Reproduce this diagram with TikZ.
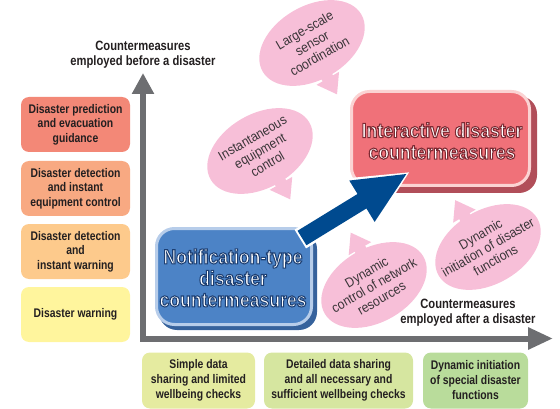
\documentclass[tikz,border=0pt]{standalone}
\usepackage{fontspec}
\setmainfont{Liberation Sans}[FakeStretch=0.83]
\newfontfamily\bubfont{Liberation Sans}[FakeStretch=0.9]
\newfontfamily\bigfont{Liberation Sans}[FakeStretch=0.86]
\usetikzlibrary{arrows.meta,shapes.geometric,calc}
\definecolor{axisgray}{HTML}{6D6E71}
\definecolor{txtdark}{HTML}{231F20}
\definecolor{cA}{HTML}{F38877}
\definecolor{cB}{HTML}{F8A982}
\definecolor{cC}{HTML}{FDCA8C}
\definecolor{cD}{HTML}{FFF59D}
\definecolor{gA}{HTML}{E5EBA0}
\definecolor{gB}{HTML}{D6E6A0}
\definecolor{gC}{HTML}{B9DC9B}
\definecolor{bpink}{HTML}{F7BFD8}
\definecolor{bubtxt}{HTML}{3A3538}
\definecolor{nmain}{HTML}{4C83C6}
\definecolor{nlight}{HTML}{B7CDEA}
\definecolor{ndark}{HTML}{36629C}
\definecolor{imain}{HTML}{F07179}
\definecolor{ilight}{HTML}{FBD3D3}
\definecolor{idark}{HTML}{B14E59}
\definecolor{arrowblue}{HTML}{004A8F}
% white text with a coloured stroke (PDF text rendering mode 2)
\newcommand\strokedtext[2]{\special{pdf:literal direct #1 RG 2 Tr 1.05 w}#2\special{pdf:literal direct 0 Tr}}
\tikzset{
 axisline/.style={draw=axisgray, line width=6pt, line join=miter},
 lbox/.style={rounded corners=8pt, minimum width=109pt, minimum height=55pt, align=center, text=txtdark, font=\fontsize{12.5}{14.5}\selectfont\bfseries},
 bbox/.style={rounded corners=8pt, minimum height=56pt, align=center, text=txtdark, font=\fontsize{12.5}{15}\selectfont\bfseries},
 axlabel/.style={align=center, text=txtdark, font=\fontsize{13.5}{15}\selectfont\bfseries},
 bubble/.style={ellipse, fill=bpink, minimum width=114pt, minimum height=74pt, rotate=30},
 bubtext/.style={align=center, text=bubtxt, rotate=30, font=\bubfont\fontsize{13.5}{15}\selectfont},
 tailfill/.style={fill=bpink},
 bigtext/.style={align=center, text=white, font=\bigfont\fontsize{20.5}{21.5}\selectfont\bfseries},
}
\begin{document}
\begin{tikzpicture}[x=1pt,y=-1pt, every node/.style={inner sep=0pt, outer sep=0pt}]
\useasboundingbox (0,0) rectangle (560,409);

% left boxes
\node[lbox, fill=cA] (l1) at (75.5,124.5) {Disaster prediction\\and evacuation\\guidance};
\node[lbox, fill=cB] (l2) at (75.5,188.5) {Disaster detection\\and instant\\equipment control};
\node[lbox, fill=cC] (l3) at (75.5,251.5) {Disaster detection\\and\\instant warning};
\node[lbox, fill=cD] (l4) at (75.5,314.5) {Disaster warning};

% bottom boxes
\node[bbox, fill=gA, minimum width=113pt] (g1) at (198.5,380.5) {Simple data\\sharing and limited\\wellbeing checks};
\node[bbox, fill=gB, minimum width=149pt] (g2) at (338.5,380.5) {Detailed data sharing\\and all necessary and\\sufficient wellbeing checks};
\node[bbox, fill=gC, minimum width=105pt] (g3) at (475.5,380.5) {Dynamic initiation\\of special disaster\\functions};

% axes
\coordinate (O) at (143,338.5);
\coordinate (Ytip) at (143,73);
\coordinate (Xtip) at (553,338.5);
\draw[axisline, {Triangle[length=21pt,width=21pt]}-{Triangle[length=25pt,width=21pt]}] (Ytip) -- (O) -- (Xtip);
\node[axlabel] (ylab) at (143,55) {Countermeasures\\employed before a disaster};
\node[axlabel] (xlab) at (468,313) {Countermeasures\\employed after a disaster};

% bubbles
\node[bubble] (e1) at (312,43) {};
\node[bubble] (e2) at (260,151) {};
\node[bubble] (e3) at (374,285) {};
\node[bubble] (e4) at (488,247) {};
\begin{scope}[shift={(e1.center)}, rotate=30]
 \fill[tailfill] (-10,25) rectangle (2,40);
 \fill[tailfill] (-17,38.5) -- (9,38.5) -- (-4,57) -- cycle;
\end{scope}
\begin{scope}[shift={(e2.center)}, rotate=30]
 \fill[tailfill] (-4,25) rectangle (8,40);
 \fill[tailfill] (-11,38.5) -- (15,38.5) -- (2,57) -- cycle;
\end{scope}
\begin{scope}[shift={(e3.center)}, rotate=30]
 \fill[tailfill] (0,-25) rectangle (12,-40);
 \fill[tailfill] (-7,-38.5) -- (19,-38.5) -- (6,-57) -- cycle;
\end{scope}
\begin{scope}[shift={(e4.center)}, rotate=30]
 \fill[tailfill] (-11,-25) rectangle (1,-40);
 \fill[tailfill] (-18,-38.5) -- (8,-38.5) -- (-5,-57) -- cycle;
\end{scope}
\node[bubtext] (t1) at (e1) {Large-scale\\sensor\\coordination};
\node[bubtext] (t2) at (e2) {Instantaneous\\equipment\\control};
\node[bubtext] (t3) at (e3) {Dynamic\\control of network\\resources};
\node[bubtext] (t4) at (e4) {Dynamic\\initiation of disaster\\functions};

% interactive box
\fill[idark, rounded corners=18pt] (356,96) rectangle (537,193);
\node[draw=ilight, line width=3pt, fill=imain, rounded corners=18pt, minimum width=178pt, minimum height=94pt] (inter) at (440.5,138.5) {};
\node[bigtext] (itxt) at (442,141) {\strokedtext{0.49 0.165 0.2}{Interactive disaster\\countermeasures}};

% notification box
\fill[ndark, rounded corners=18pt] (159,231) rectangle (317,330);
\node[draw=nlight, line width=3pt, fill=nmain, rounded corners=18pt, minimum width=155pt, minimum height=96pt] (notif) at (234,276.5) {};
\node[bigtext] (ntxt) at (233,278) {\strokedtext{0.114 0.247 0.451}{Notification-type\\disaster\\countermeasures}};

% big arrow
\coordinate (as) at (302,238);
\coordinate (ae) at (408,173);
\draw[white, line width=22pt, -{Triangle[length=60pt,width=52pt]}] ($(as)!-2pt!(ae)$) -- ($(ae)!-3pt!(as)$);
\draw[arrowblue, line width=17pt, -{Triangle[length=54pt,width=44pt]}] (as) -- (ae);
\end{tikzpicture}
\end{document}
